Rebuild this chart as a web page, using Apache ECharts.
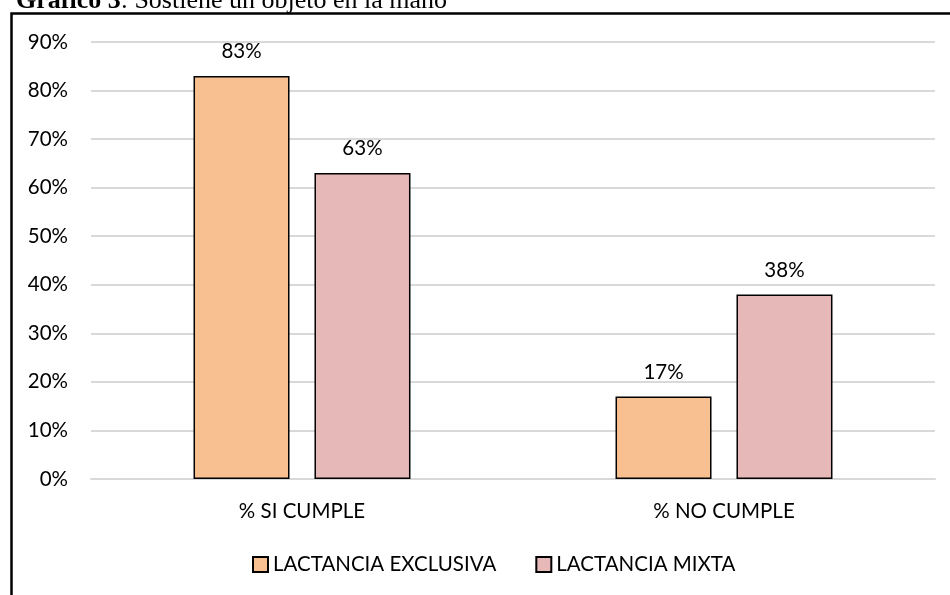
<!DOCTYPE html>
<html>
<head>
<meta charset="utf-8">
<script src="https://cdn.jsdelivr.net/npm/echarts@6/dist/echarts.min.js"></script>
<style>
  html, body { margin: 0; padding: 0; background: #fff; }
  #chart { width: 950px; height: 595px; }
</style>
</head>
<body>
<div id="chart"></div>
<script>
// Categories, series and axis ticks
const categories = ['% SI CUMPLE', '% NO CUMPLE'];
const exclusiva = [83, 17];
const mixta = [63, 38];
const seriesNames = ['LACTANCIA EXCLUSIVA', 'LACTANCIA MIXTA'];
const yMax = 90;
const yStep = 10;

const font = 'Lato, "Open Sans", sans-serif';
const fs = 20.5;
const serif = '"Liberation Serif", "Times New Roman", serif';
const chart = echarts.init(document.getElementById('chart'));

const barLabel = {
  show: true,
  position: 'top',
  distance: 14,
  formatter: p => p.value + '%',
  color: '#000',
  fontFamily: font,
  fontSize: fs
};

chart.setOption({
  animation: false,
  backgroundColor: '#fff',
  graphic: [
    // frame around the chart area
    {
      type: 'rect',
      shape: { x: 11.5, y: 13.5, width: 960, height: 600 },
      style: { fill: 'none', stroke: '#000', lineWidth: 2.5 },
      z: 0
    },
    // caption above the frame
    {
      type: 'text',
      x: 16,
      y: 1,
      style: {
        text: '{b|Gráfico 3}{r|: Sostiene un objeto en la mano}',
        verticalAlign: 'middle',
        rich: {
          b: { fontFamily: serif, fontWeight: 'bold', fontSize: 26, fill: '#000' },
          r: { fontFamily: serif, fontSize: 26, fill: '#000' }
        }
      }
    }
  ],
  grid: { left: 91, right: 15, top: 42, bottom: 116, containLabel: false },
  legend: {
    top: 554,
    left: 252,
    padding: 0,
    itemWidth: 15,
    itemHeight: 15,
    itemGap: 39,
    icon: 'rect',
    textStyle: { fontFamily: font, fontSize: fs, color: '#000' },
    data: seriesNames
  },
  xAxis: {
    type: 'category',
    data: categories,
    axisLine: { lineStyle: { color: '#d9d9d9', width: 2 } },
    axisTick: { show: false },
    axisLabel: { fontFamily: font, fontSize: fs, color: '#000', margin: 22 }
  },
  yAxis: {
    type: 'value',
    min: 0,
    max: yMax,
    interval: yStep,
    axisLine: { show: false },
    axisTick: { show: false },
    splitLine: { lineStyle: { color: '#d9d9d9', width: 2 } },
    axisLabel: {
      formatter: v => v + '%',
      fontFamily: font,
      fontSize: fs,
      color: '#000',
      margin: 23
    }
  },
  series: [
    {
      name: seriesNames[0],
      type: 'bar',
      data: exclusiva,
      barWidth: 96,
      barGap: '26%',
      itemStyle: { color: '#f8c090', borderColor: '#000', borderWidth: 1.5 },
      label: barLabel
    },
    {
      name: seriesNames[1],
      type: 'bar',
      data: mixta,
      barWidth: 96,
      itemStyle: { color: '#e6b8b7', borderColor: '#000', borderWidth: 1.5 },
      label: barLabel
    }
  ]
});
</script>
</body>
</html>
